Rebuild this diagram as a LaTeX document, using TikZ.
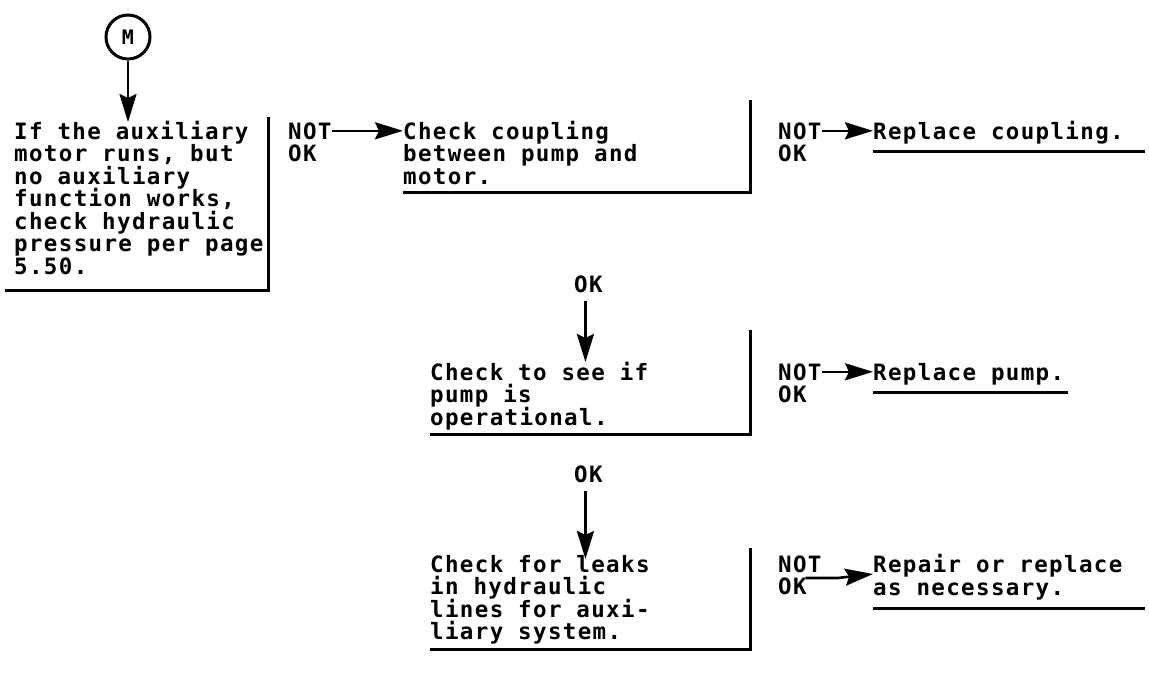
\documentclass[tikz,border=0pt]{standalone}
\usepackage{fontspec}
\newfontfamily\scanfont{DejaVu Sans Mono}[LetterSpace=6]
\newcommand\scanstyle{\scanfont\bfseries\fontsize{22.5}{22.5}\selectfont\lineskiplimit=-8pt\relax}
\newcommand\topstrut{\rule{0pt}{18pt}}
\usepackage{tikz}
\usetikzlibrary{positioning, arrows.meta, calc}

\begin{document}
\begin{tikzpicture}[
    x=1pt, y=-1pt,
    txt/.style={font=\scanstyle, inner sep=0pt},
    chk/.style={txt, align=left, anchor=north west},
    lbl/.style={txt, anchor=base west},
    entry/.style={draw, circle, line width=3pt, minimum size=44pt, inner sep=0pt,
                  font=\scanfont\bfseries\fontsize{20}{20}\selectfont},
    frame/.style={line width=3pt},
    arr/.style={-{Stealth[length=28pt, width=17pt, inset=4pt]}, line width=2.6pt},
]
\path[fill=white, use as bounding box] (0,0) rectangle (1149,683);

% === Entry point ===
\node[entry] (m) at (128,37) {M};

% === Row 1: first check ===
\node[chk] (q1) at (14,121) {\topstrut If the auxiliary\\motor runs, but\\no auxiliary\\function works,\\check hydraulic\\pressure per page\\5.50.};
\node[lbl] (n1) at (288,139) {NOT};
\node[lbl] (o1) at (288,161.5) {OK};
\draw[frame] (268,117) |- (5,290);

\node[chk] (q2) at (403,121) {\topstrut Check coupling\\between pump and\\motor.};
\node[lbl] (n2) at (778,139) {NOT};
\node[lbl] (o2) at (778,161.5) {OK};
\draw[frame] (750,100) |- (403,192);

\node[lbl] (r1) at (873,139) {Replace coupling.};
\draw[frame] ($(r1.base west)+(0,12)$) -- ++(272,0);

\draw[arr] (m.south) -- ($(m.south |- q1.north)+(0,1)$);
\draw[arr] (n1.east) -- (n1.east -| q2.west);
\draw[arr] (n2.east) -- (n2.east -| r1.west);

% === Row 2: pump ===
\node[lbl] (ok2) at (574,292) {OK};
\node[chk] (q3) at (430,362) {\topstrut Check to see if\\pump is\\operational.};
\node[lbl] (n3) at (778,380) {NOT};
\node[lbl] (o3) at (778,402.5) {OK};
\draw[frame] (750,330) |- (430,434);

\node[lbl] (r2) at (873,380) {Replace pump.};
\draw[frame] ($(r2.base west)+(0,12)$) -- ++(195,0);

\draw[arr] ($(ok2.south)+(-3,8)$) -- ($(ok2.south |- q3.north)+(-3,0)$);
\draw[arr] (n3.east) -- (n3.east -| r2.west);

% === Row 3: hydraulic lines ===
\node[lbl] (ok3) at (574,482) {OK};
\node[chk] (q4) at (430,554) {\topstrut Check for leaks\\in hydraulic\\lines for auxi-\\liary system.};
\node[lbl] (n4) at (778,572) {NOT};
\node[lbl] (o4) at (778,594.5) {OK};
\draw[frame] (750,548) |- (430,649);

\node[chk] (r3) at (873,554) {\topstrut Repair or replace\\as necessary.};
\draw[frame] ($(r3.north west)+(0,54)$) -- ++(272,0);

\draw[arr] ($(ok3.south)+(-3,8)$) -- ($(ok3.south |- q4.north)+(-3,5)$);
\draw[arr] ($(n4.base east)+(-16,6)$) -- ++(32,0) -- ($(r3.north west)+(0,20)$);

\end{tikzpicture}
\end{document}
